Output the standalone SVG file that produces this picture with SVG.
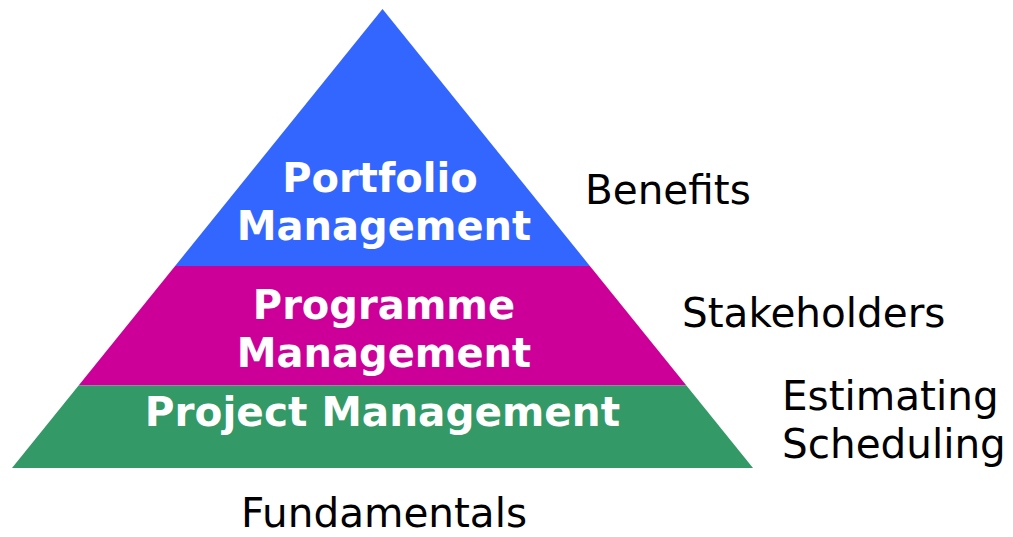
<svg xmlns="http://www.w3.org/2000/svg" width="1013" height="537" viewBox="0 0 1013 537">
<style>
.lbl{font-family:"DejaVu Sans","Liberation Sans",sans-serif;font-size:40.5px;fill:#000}
.tier{font-family:"DejaVu Sans","Liberation Sans",sans-serif;font-size:40px;font-weight:bold;fill:#fff;text-anchor:middle}
</style>
<rect width="1013" height="537" fill="#fff"/>
<g id="portfolio">
<polygon points="382.5,9 589.9,266 175.1,266" fill="#3366FF"/>
<text class="tier" x="380" y="192">Portfolio</text>
<text class="tier" x="384" y="240">Management</text>
</g>
<g id="programme">
<polygon points="175.1,266 589.9,266 686.4,385.5 78.6,385.5" fill="#CC0099"/>
<text class="tier" x="384" y="319">Programme</text>
<text class="tier" x="384" y="367">Management</text>
</g>
<g id="project">
<polygon points="78.6,385.5 686.4,385.5 753,468 12,468" fill="#339966"/>
<text class="tier" x="382.5" y="426" style="font-size:40.6px">Project Management</text>
</g>
<g id="labels">
<text class="lbl" x="585" y="204">Benefits</text>
<text class="lbl" x="682" y="327">Stakeholders</text>
<text class="lbl" x="782" y="410">Estimating</text>
<text class="lbl" x="782" y="458">Scheduling</text>
<text class="lbl" x="241" y="527">Fundamentals</text>
</g>
<g id="connectors"/>
</svg>
